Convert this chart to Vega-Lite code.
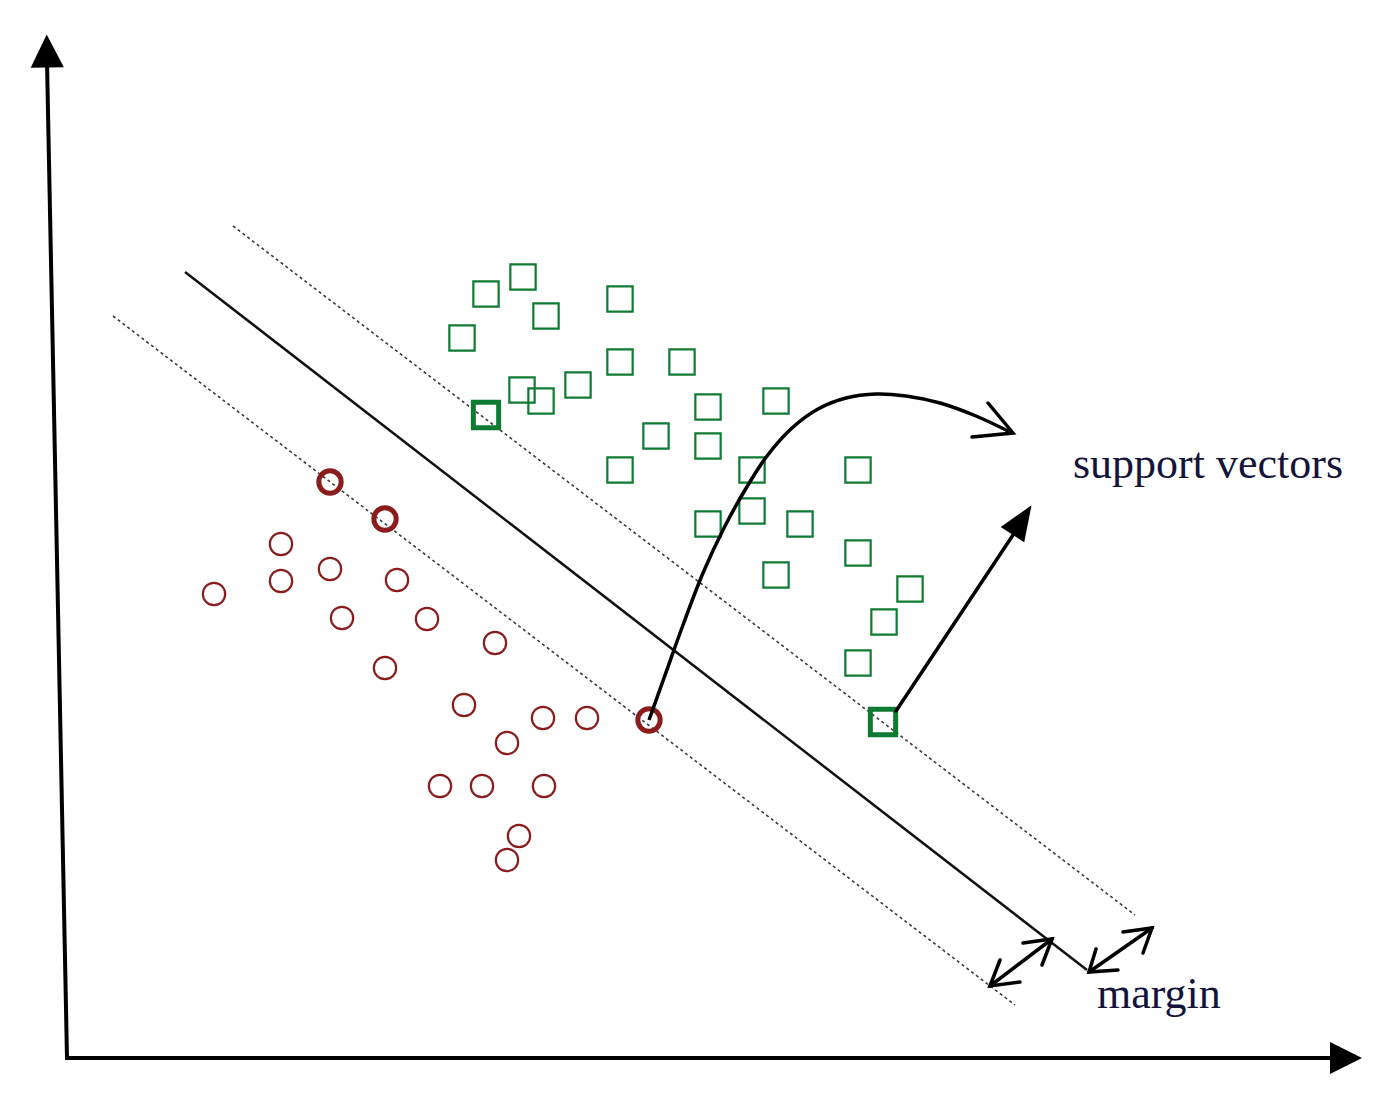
{
  "$schema": "https://vega.github.io/schema/vega-lite/v6.json",
  "width": 1386,
  "height": 1108,
  "autosize": {"type": "fit", "contains": "padding"},
  "padding": 0,
  "background": "white",
  "config": {"view": {"stroke": null}},
  "datasets": {
    "axes": [
      {"id": "y", "o": 0, "x": 67, "y": 1058}, {"id": "y", "o": 1, "x": 47, "y": 62},
      {"id": "x", "o": 0, "x": 65, "y": 1058}, {"id": "x", "o": 1, "x": 1335, "y": 1058}
    ],
    "hyper": [
      {"id": "h", "o": 0, "x": 185, "y": 272}, {"id": "h", "o": 1, "x": 1087, "y": 970}
    ],
    "margins": [
      {"id": "upper", "o": 0, "x": 233, "y": 226}, {"id": "upper", "o": 1, "x": 1135, "y": 915},
      {"id": "lower", "o": 0, "x": 113, "y": 316}, {"id": "lower", "o": 1, "x": 1015, "y": 1005}
    ],
    "curve": [
      {"o": 0, "x": 649, "y": 720}, {"o": 1, "x": 664, "y": 678}, {"o": 2, "x": 683, "y": 625},
      {"o": 3, "x": 703, "y": 573}, {"o": 4, "x": 724, "y": 528}, {"o": 5, "x": 745, "y": 490},
      {"o": 6, "x": 767, "y": 456}, {"o": 7, "x": 792, "y": 428}, {"o": 8, "x": 818, "y": 409},
      {"o": 9, "x": 846, "y": 398}, {"o": 10, "x": 876, "y": 394}, {"o": 11, "x": 906, "y": 396},
      {"o": 12, "x": 940, "y": 403}, {"o": 13, "x": 976, "y": 416}, {"o": 14, "x": 1012, "y": 433}
    ],
    "segs": [
      {"id": "sv", "o": 0, "x": 896, "y": 711}, {"id": "sv", "o": 1, "x": 1015, "y": 532},
      {"id": "ch", "o": 0, "x": 988, "y": 403}, {"id": "ch", "o": 1, "x": 1013, "y": 433}, {"id": "ch", "o": 2, "x": 972, "y": 437},
      {"id": "m1", "o": 0, "x": 990, "y": 986}, {"id": "m1", "o": 1, "x": 1052, "y": 939},
      {"id": "m1a", "o": 0, "x": 1023, "y": 943}, {"id": "m1a", "o": 1, "x": 1052, "y": 939}, {"id": "m1a", "o": 2, "x": 1042, "y": 965},
      {"id": "m1b", "o": 0, "x": 1000, "y": 960}, {"id": "m1b", "o": 1, "x": 990, "y": 986}, {"id": "m1b", "o": 2, "x": 1020, "y": 982},
      {"id": "m2", "o": 0, "x": 1089, "y": 972}, {"id": "m2", "o": 1, "x": 1152, "y": 928},
      {"id": "m2a", "o": 0, "x": 1123, "y": 932}, {"id": "m2a", "o": 1, "x": 1152, "y": 928}, {"id": "m2a", "o": 2, "x": 1143, "y": 953},
      {"id": "m2b", "o": 0, "x": 1096, "y": 949}, {"id": "m2b", "o": 1, "x": 1089, "y": 972}, {"id": "m2b", "o": 2, "x": 1118, "y": 970}
    ],
    "squares": [
      {"x": 523, "y": 277, "role": "regular"}, {"x": 486, "y": 294, "role": "regular"},
      {"x": 620, "y": 299, "role": "regular"}, {"x": 546, "y": 316, "role": "regular"},
      {"x": 462, "y": 338, "role": "regular"}, {"x": 620, "y": 362, "role": "regular"},
      {"x": 682, "y": 362, "role": "regular"}, {"x": 522, "y": 390, "role": "regular"},
      {"x": 541, "y": 401, "role": "regular"}, {"x": 578, "y": 385, "role": "regular"},
      {"x": 708, "y": 407, "role": "regular"}, {"x": 776, "y": 401, "role": "regular"},
      {"x": 486, "y": 415, "role": "support"}, {"x": 656, "y": 436, "role": "regular"},
      {"x": 708, "y": 446, "role": "regular"}, {"x": 620, "y": 470, "role": "regular"},
      {"x": 752, "y": 470, "role": "regular"}, {"x": 858, "y": 470, "role": "regular"},
      {"x": 752, "y": 511, "role": "regular"}, {"x": 708, "y": 524, "role": "regular"},
      {"x": 800, "y": 524, "role": "regular"}, {"x": 858, "y": 553, "role": "regular"},
      {"x": 776, "y": 575, "role": "regular"}, {"x": 910, "y": 589, "role": "regular"},
      {"x": 884, "y": 622, "role": "regular"}, {"x": 858, "y": 663, "role": "regular"},
      {"x": 883, "y": 722, "role": "support"}
    ],
    "circles": [
      {"x": 330, "y": 482, "role": "support"}, {"x": 385, "y": 519, "role": "support"},
      {"x": 281, "y": 544, "role": "regular"}, {"x": 214, "y": 594, "role": "regular"},
      {"x": 281, "y": 581, "role": "regular"}, {"x": 330, "y": 569, "role": "regular"},
      {"x": 397, "y": 580, "role": "regular"}, {"x": 342, "y": 618, "role": "regular"},
      {"x": 427, "y": 619, "role": "regular"}, {"x": 495, "y": 643, "role": "regular"},
      {"x": 385, "y": 668, "role": "regular"}, {"x": 464, "y": 705, "role": "regular"},
      {"x": 543, "y": 718, "role": "regular"}, {"x": 587, "y": 718, "role": "regular"},
      {"x": 649, "y": 720, "role": "support"}, {"x": 507, "y": 743, "role": "regular"},
      {"x": 440, "y": 786, "role": "regular"}, {"x": 482, "y": 786, "role": "regular"},
      {"x": 544, "y": 786, "role": "regular"}, {"x": 519, "y": 836, "role": "regular"},
      {"x": 507, "y": 860, "role": "regular"}
    ],
    "labels": [
      {"x": 1073, "y": 478, "label": "support vectors"},
      {"x": 1097, "y": 1008, "label": "margin"}
    ]
  },
  "encoding": {
    "x": {"field": "x", "type": "quantitative", "scale": {"domain": [0, 1386], "nice": false, "zero": false}, "axis": null},
    "y": {"field": "y", "type": "quantitative", "scale": {"domain": [0, 1108], "nice": false, "zero": false, "reverse": true}, "axis": null}
  },
  "layer": [
    {
      "data": {"name": "margins"},
      "mark": {"type": "line", "color": "#3a3a3a", "strokeWidth": 1.6, "strokeDash": [3, 3]},
      "encoding": {"detail": {"field": "id"}, "order": {"field": "o"}}
    },
    {
      "data": {"name": "hyper"},
      "mark": {"type": "line", "color": "#111111", "strokeWidth": 2.5},
      "encoding": {"detail": {"field": "id"}, "order": {"field": "o"}}
    },
    {
      "data": {"name": "squares"},
      "mark": {"type": "point", "shape": "square", "filled": false, "size": 640, "color": "#0f7a32", "opacity": 1},
      "encoding": {
        "strokeWidth": {"field": "role", "type": "nominal", "scale": {"domain": ["regular", "support"], "range": [2.2, 5]}, "legend": null}
      }
    },
    {
      "data": {"name": "circles"},
      "mark": {"type": "point", "shape": "circle", "filled": false, "size": 500, "color": "#8b1c1c", "opacity": 1},
      "encoding": {
        "strokeWidth": {"field": "role", "type": "nominal", "scale": {"domain": ["regular", "support"], "range": [2, 3.5]}, "legend": null}
      }
    },
    {
      "data": {"name": "axes"},
      "mark": {"type": "line", "color": "#000000", "strokeWidth": 4},
      "encoding": {"detail": {"field": "id"}, "order": {"field": "o"}}
    },
    {
      "data": {"name": "curve"},
      "mark": {"type": "line", "color": "#000000", "strokeWidth": 3.5, "interpolate": "catmull-rom"},
      "encoding": {"order": {"field": "o"}}
    },
    {
      "data": {"name": "segs"},
      "mark": {"type": "line", "color": "#000000", "strokeWidth": 3.5, "strokeCap": "round", "strokeJoin": "miter"},
      "encoding": {"detail": {"field": "id"}, "order": {"field": "o"}}
    },
    {
      "data": {"values": [{"x": 47, "y": 51}]},
      "mark": {"type": "point", "shape": "M0,-1L-1,1L1,1Z", "filled": true, "size": 1100, "color": "#000000", "opacity": 1, "angle": -1}
    },
    {
      "data": {"values": [{"x": 1346, "y": 1058}]},
      "mark": {"type": "point", "shape": "M0,-1L-1,1L1,1Z", "filled": true, "size": 1024, "color": "#000000", "opacity": 1, "angle": 90}
    },
    {
      "data": {"values": [{"x": 1022, "y": 520}]},
      "mark": {"type": "point", "shape": "M0,-1L-0.8,1L0.8,1Z", "filled": true, "size": 1225, "color": "#000000", "opacity": 1, "angle": 33}
    },
    {
      "data": {"name": "labels"},
      "mark": {"type": "text", "align": "left", "baseline": "alphabetic", "font": "Liberation Serif", "fontSize": 44, "color": "#14143a"},
      "encoding": {"text": {"field": "label"}}
    }
  ]
}
